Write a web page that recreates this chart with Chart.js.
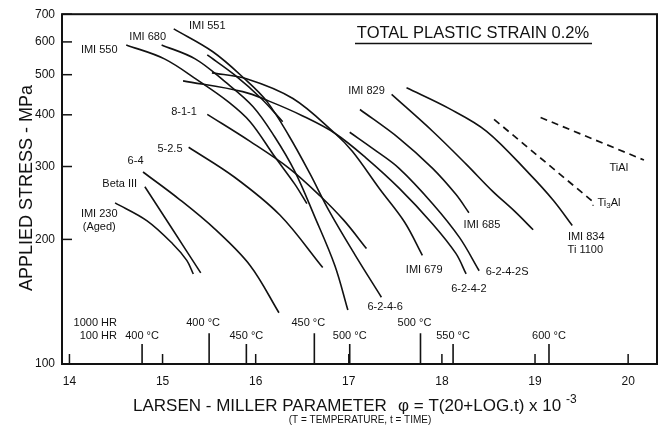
<!DOCTYPE html>
<html>
<head>
<meta charset="utf-8">
<script src="https://cdn.jsdelivr.net/npm/chart.js@4.4.0/dist/chart.umd.min.js"></script>
<style>
  html, body { margin: 0; padding: 0; background: #fff; }
</style>
</head>
<body>
<canvas id="lm" width="670" height="426"></canvas>
<script>
const xTicks = [14, 15, 16, 17, 18, 19, 20];
const yTicks = [100, 200, 300, 400, 500, 600, 700];

// [Larsen-Miller parameter, stress MPa]
const imi230 = [[14.49, 245], [14.83, 222], [15.11, 195], [15.26, 178], [15.33, 165]];
const betaIII = [[14.81, 268], [15.11, 211], [15.41, 166]];
const ti64 = [[14.79, 291], [15.18, 250], [15.56, 212], [15.94, 173], [16.25, 133]];
const ti525 = [[15.28, 334], [15.77, 283], [16.26, 229], [16.72, 171]];
const ti811 = [[15.48, 401], [15.94, 345], [16.36, 297], [16.69, 255], [16.95, 222], [17.19, 190]];
const unnamed = [[15.48, 558], [15.77, 500], [16.06, 438], [16.29, 385]];
const imi550 = [[14.61, 590], [15.02, 546], [15.40, 481], [15.70, 431], [15.94, 385], [16.20, 318], [16.42, 272], [16.55, 244]];
const imi680 = [[14.99, 590], [15.35, 546], [15.67, 481], [15.97, 419], [16.20, 355], [16.42, 292], [16.63, 228], [16.85, 173], [16.99, 135]];
const imi551 = [[15.12, 645], [15.54, 568], [15.88, 489], [16.12, 431], [16.36, 355], [16.58, 289], [16.79, 234], [17.07, 183], [17.35, 145]];
const imi679 = [[15.53, 505], [15.90, 489], [16.40, 438], [16.85, 361], [17.04, 326], [17.33, 265], [17.60, 220], [17.79, 183]];
const ti6242 = [[15.22, 483], [15.86, 455], [16.15, 431], [16.50, 398], [16.85, 361], [17.19, 314], [17.54, 266], [17.90, 218], [18.15, 185], [18.26, 165]];
const ti6242s = [[17.01, 363], [17.27, 330], [17.54, 297], [17.90, 244], [18.19, 202], [18.40, 168]];
const imi685 = [[17.12, 412], [17.54, 351], [17.90, 297], [18.15, 257], [18.29, 232]];
const imi829 = [[17.46, 448], [17.90, 365], [18.26, 304], [18.54, 262], [18.78, 234], [18.98, 211]];
const imi834 = [[17.62, 465], [18.08, 414], [18.48, 365], [18.94, 288], [19.20, 248], [19.40, 216]];
const ti3al = [[18.56, 390], [19.61, 248]];
const tial = [[19.06, 394], [20.17, 311]];

const solidCurves = [imi230, betaIII, ti64, ti525, ti811, unnamed, imi550, imi680, imi551,
  imi679, ti6242, ti6242s, imi685, imi829, imi834];
const dashedCurves = [ti3al, tial];

// temperature markers on the LMP axis
const hr100Lmp = [14.78, 15.90, 17.01, 18.12, 19.15];
const hr100Temps = ['400 °C', '450 °C', '500 °C', '550 °C', '600 °C'];
const hr1000Lmp = [15.50, 16.63, 17.77];
const hr1000Temps = ['400 °C', '450 °C', '500 °C'];
const hr100Top = 111.7;
const hr1000Top = 118.7;

// curve labels
const labelText = ['IMI 550', 'IMI 680', 'IMI 551', '8-1-1', '5-2.5', '6-4', 'Beta III', 'IMI 230', '(Aged)',
  'IMI 829', 'IMI 685', 'IMI 834', 'Ti 1100', 'IMI 679', '6-2-4-2S', '6-2-4-2', '6-2-4-6', 'TiAl'];
const labelAt = [[14.32, 574], [14.84, 617], [15.48, 655], [15.23, 407], [15.08, 330], [14.71, 309], [14.54, 272],
  [14.32, 230], [14.32, 214.5], [17.19, 457], [18.43, 217], [19.55, 203], [19.54, 189], [17.81, 169],
  [18.70, 167], [18.29, 152], [17.39, 137], [19.90, 297]];

const FONT = '"Liberation Sans", Arial, Helvetica, sans-serif';
const INK = '#121212';

const datasets = [];
solidCurves.forEach(c => datasets.push({
  data: c.map(([x, y]) => ({ x, y })),
  borderColor: INK, borderWidth: 1.6, pointRadius: 0, fill: false, tension: 0.35
}));
dashedCurves.forEach(c => datasets.push({
  data: c.map(([x, y]) => ({ x, y })),
  borderColor: INK, borderWidth: 1.7, borderDash: [7, 5], pointRadius: 0, fill: false
}));
hr100Lmp.forEach(v => datasets.push({
  data: [{ x: v, y: 100 }, { x: v, y: hr100Top }],
  borderColor: INK, borderWidth: 1.6, pointRadius: 0
}));
hr1000Lmp.forEach(v => datasets.push({
  data: [{ x: v, y: 100 }, { x: v, y: hr1000Top }],
  borderColor: INK, borderWidth: 1.6, pointRadius: 0
}));

const annotate = {
  id: 'annotate',
  afterDatasetsDraw(chart) {
    const { ctx, chartArea: a, scales: { x, y } } = chart;
    ctx.save();
    ctx.strokeStyle = INK;
    ctx.fillStyle = INK;

    // frame and inward ticks
    ctx.lineWidth = 2;
    ctx.strokeRect(a.left, a.top, a.right - a.left, a.bottom - a.top);
    ctx.lineWidth = 1.5;
    yTicks.forEach(v => {
      const py = y.getPixelForValue(v);
      ctx.beginPath(); ctx.moveTo(a.left, py); ctx.lineTo(a.left + 10, py); ctx.stroke();
    });
    xTicks.forEach(v => {
      const px = x.getPixelForValue(v);
      ctx.beginPath(); ctx.moveTo(px, a.bottom); ctx.lineTo(px, a.bottom - 10); ctx.stroke();
    });

    // curve labels
    ctx.textAlign = 'center';
    ctx.textBaseline = 'middle';
    ctx.font = '11px ' + FONT;
    labelText.forEach((t, i) => {
      ctx.fillText(t, x.getPixelForValue(labelAt[i][0]), y.getPixelForValue(labelAt[i][1]));
    });

    // Ti3Al with subscript
    let px = x.getPixelForValue(19.81) - 13, py = y.getPixelForValue(245);
    ctx.textAlign = 'left';
    ctx.fillText('.', px - 6, py);
    ctx.fillText('Ti', px, py);
    px += ctx.measureText('Ti').width;
    ctx.font = '8px ' + FONT;
    ctx.fillText('3', px, py + 3);
    px += ctx.measureText('3').width;
    ctx.font = '11px ' + FONT;
    ctx.fillText('Al', px, py);

    // temperature markers
    ctx.textAlign = 'center';
    const row100 = y.getPixelForValue(116.7), row1000 = y.getPixelForValue(125.6);
    hr100Temps.forEach((t, i) => ctx.fillText(t, x.getPixelForValue(hr100Lmp[i]), row100));
    hr1000Temps.forEach((t, i) => ctx.fillText(t, x.getPixelForValue(hr1000Lmp[i]) - 6, row1000));
    ctx.textAlign = 'right';
    ctx.fillText('1000 HR', x.getPixelForValue(14.51), row1000);
    ctx.fillText('100 HR', x.getPixelForValue(14.51), row100);

    // title
    ctx.textAlign = 'center';
    ctx.font = '16.5px ' + FONT;
    ctx.fillText('TOTAL PLASTIC STRAIN 0.2%', 473, 33);
    ctx.lineWidth = 1.5;
    ctx.beginPath(); ctx.moveTo(355, 43.5); ctx.lineTo(592, 43.5); ctx.stroke();

    // axis titles
    ctx.save();
    ctx.translate(27, 188);
    ctx.rotate(-Math.PI / 2);
    ctx.font = '18px ' + FONT;
    ctx.fillText('APPLIED STRESS - MPa', 0, 0);
    ctx.restore();

    ctx.textAlign = 'left';
    ctx.textBaseline = 'alphabetic';
    ctx.font = '17px ' + FONT;
    ctx.fillText('LARSEN - MILLER PARAMETER', 133, 411);
    ctx.fillText('\u03C6 = T(20+LOG.t) x 10', 398, 411);
    ctx.font = '12px ' + FONT;
    ctx.fillText('-3', 566, 403);
    ctx.textAlign = 'center';
    ctx.font = '10px ' + FONT;
    ctx.fillText('(T = TEMPERATURE, t = TIME)', 360, 423);
    ctx.restore();
  }
};

new Chart(document.getElementById('lm'), {
  type: 'line',
  data: { datasets },
  options: {
    responsive: false,
    devicePixelRatio: 1,
    animation: false,
    layout: { padding: { left: 0, right: 13, top: 12, bottom: 0 } },
    plugins: { legend: { display: false }, tooltip: { enabled: false } },
    scales: {
      x: {
        type: 'linear', min: 13.92, max: 20.31,
        grid: { display: false, drawTicks: false },
        border: { display: false },
        afterBuildTicks: s => { s.ticks = xTicks.map(v => ({ value: v })); },
        afterFit: s => { s.height = 62; },
        ticks: { padding: 10, color: INK, maxRotation: 0, autoSkip: false,
          font: { size: 12, family: FONT }, callback: v => String(v) }
      },
      y: {
        type: 'logarithmic', min: 100, max: 700,
        grid: { display: false, drawTicks: false },
        border: { display: false },
        afterBuildTicks: s => { s.ticks = yTicks.map(v => ({ value: v })); },
        afterFit: s => { s.width = 62; },
        ticks: { padding: 7, color: INK, autoSkip: false,
          font: { size: 12, family: FONT }, callback: v => String(v) }
      }
    }
  },
  plugins: [annotate]
});
</script>
</body>
</html>
